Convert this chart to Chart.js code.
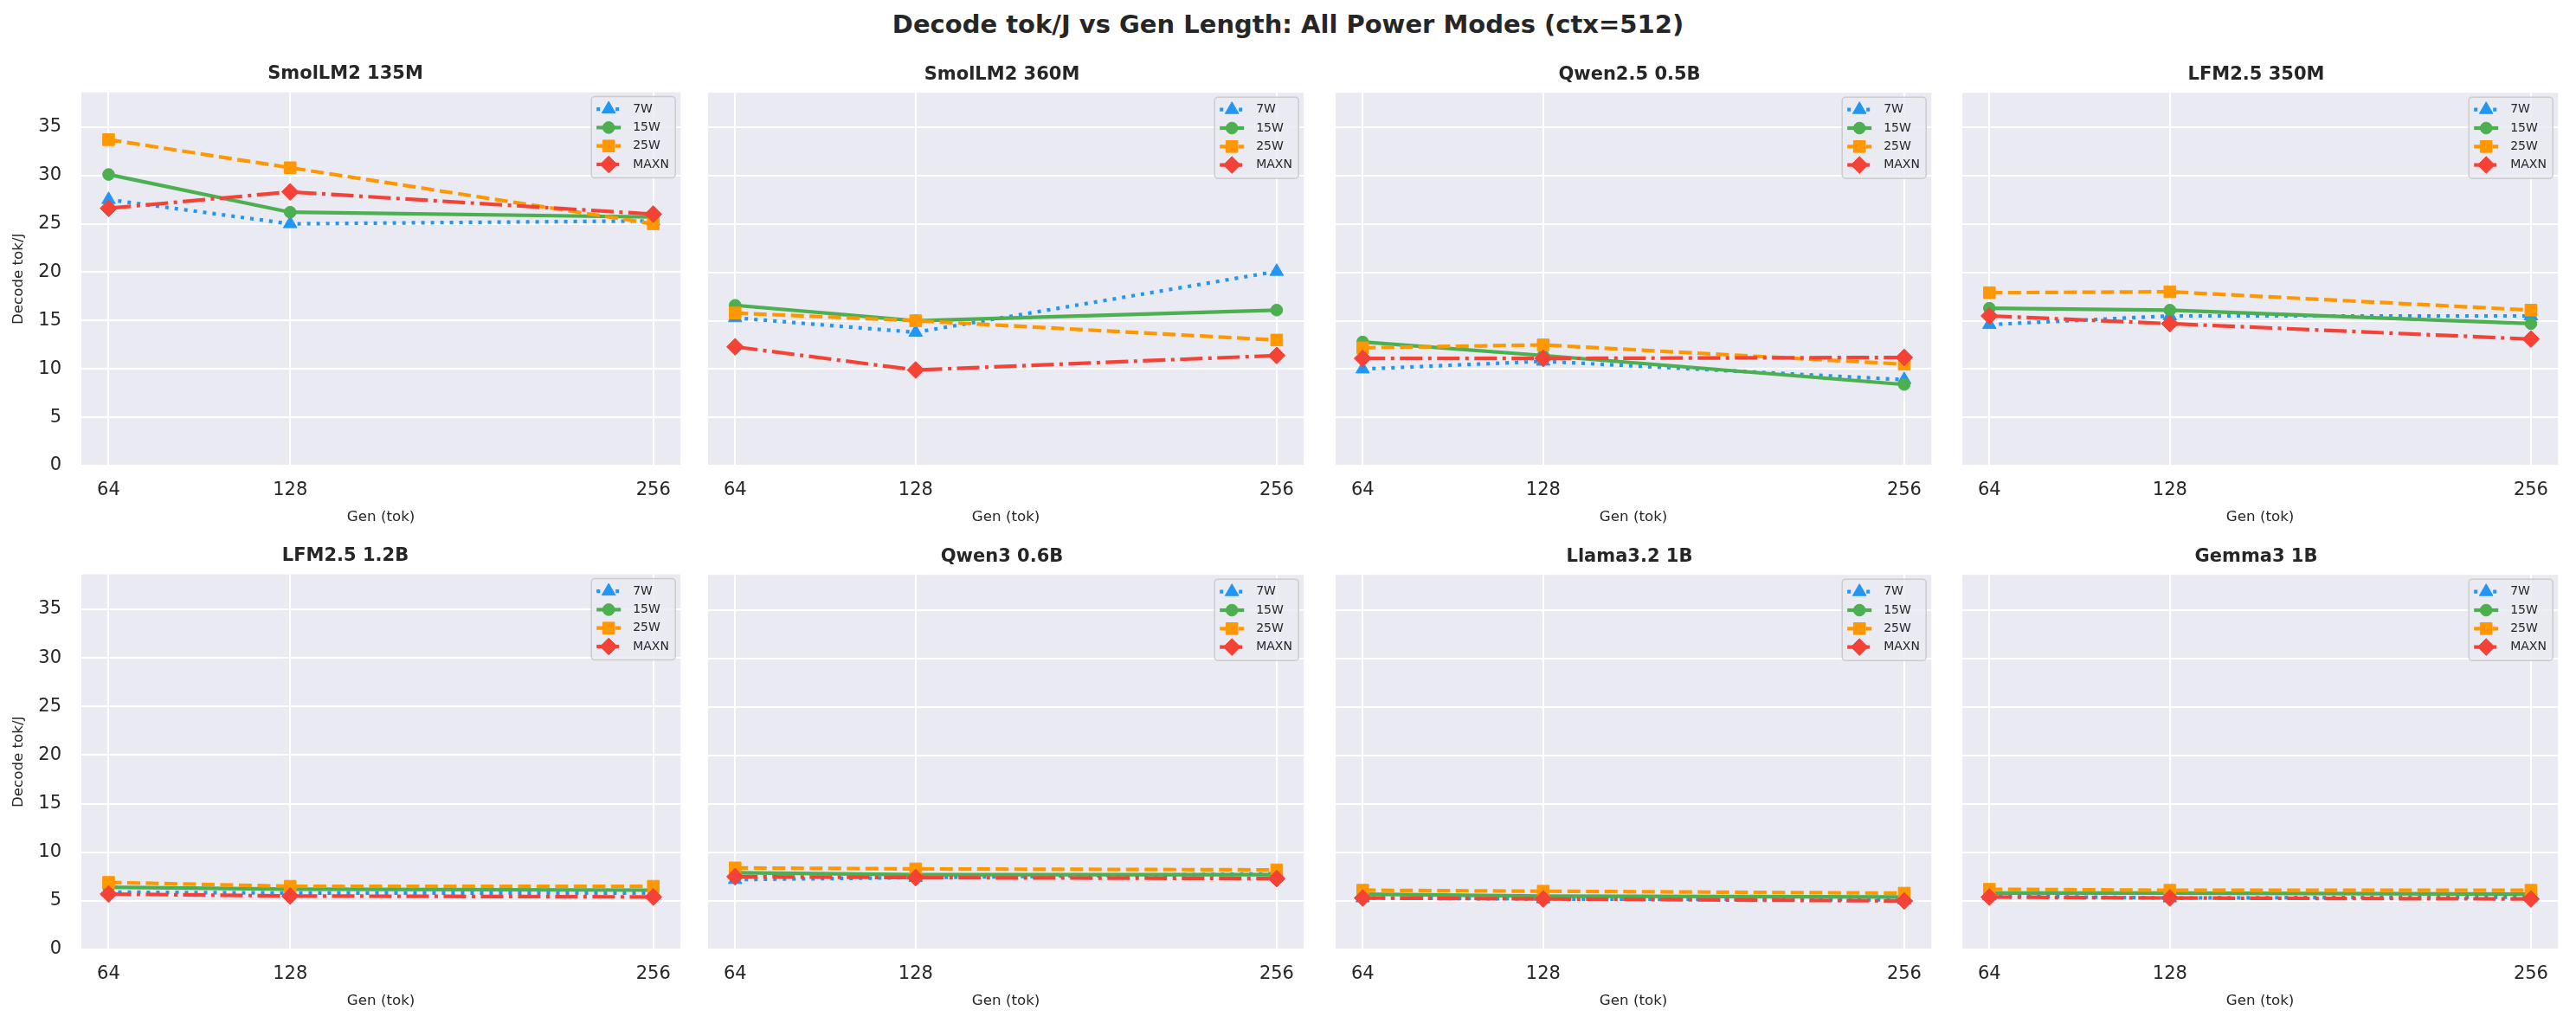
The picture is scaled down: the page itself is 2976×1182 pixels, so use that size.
<!DOCTYPE html>
<html>
<head>
<meta charset="utf-8">
<script src="https://cdn.jsdelivr.net/npm/chart.js@4.4.1/dist/chart.umd.min.js"></script>
<style>
  html, body { margin: 0; padding: 0; background: #fff; }
  body { width: 2976px; height: 1182px; position: relative; overflow: hidden; font-family: "DejaVu Sans", sans-serif; }
  #suptitle { position: absolute; left: 0; top: 10px; width: 2976px; text-align: center; font-weight: bold; font-size: 29px; line-height: 36px; color: #262626; }
  canvas { position: absolute; }
</style>
</head>
<body>
<div id="suptitle">Decode tok/J vs Gen Length: All Power Modes (ctx=512)</div>
<script>
// data
var genLengths = [64, 128, 256];
var models = ["SmolLM2 135M", "SmolLM2 360M", "Qwen2.5 0.5B", "LFM2.5 350M",
              "LFM2.5 1.2B", "Qwen3 0.6B", "Llama3.2 1B", "Gemma3 1B"];
var powerModes = ["7W", "15W", "25W", "MAXN"];

var tok7W = [
  [27.5, 25.0, 25.3], [15.3, 13.8, 20.1], [10.0, 10.8, 8.9], [14.6, 15.5, 15.5],
  [5.9, 5.8, 5.8], [7.2, 7.4, 7.8], [5.3, 5.2, 5.1], [5.5, 5.3, 5.4]
];
var tok15W = [
  [30.1, 26.2, 25.7], [16.6, 15.0, 16.1], [12.8, 11.4, 8.4], [16.3, 16.1, 14.7],
  [6.4, 6.2, 6.1], [7.9, 7.7, 7.7], [5.7, 5.5, 5.4], [5.8, 5.8, 5.7]
];
var tok25W = [
  [33.7, 30.8, 25.0], [15.8, 15.0, 13.0], [12.2, 12.5, 10.5], [17.9, 18.0, 16.1],
  [6.9, 6.5, 6.5], [8.4, 8.3, 8.2], [6.1, 6.0, 5.8], [6.2, 6.1, 6.1]
];
var tokMAXN = [
  [26.6, 28.3, 26.0], [12.3, 9.9, 11.4], [11.1, 11.1, 11.2], [15.5, 14.7, 13.1],
  [5.7, 5.5, 5.4], [7.5, 7.4, 7.3], [5.3, 5.2, 5.0], [5.4, 5.3, 5.2]
];
var yTicks = [0, 5, 10, 15, 20, 25, 30, 35];
var yMax = 38.6;
var xMin = 54.4, xMax = 265.6;

var seriesByMode = [tok7W, tok15W, tok25W, tokMAXN];
var modeStyles = [
  { color: "#2196F3", dash: [4, 7], point: "triangle", r: 9 },
  { color: "#4CAF50", dash: [], point: "circle", r: 6.8 },
  { color: "#FF9800", dash: [15, 6.5], point: "rect", r: 9.6 },
  { color: "#F44336", dash: [26, 6.5, 4, 6.5], point: "rectRot", r: 9.8 }
];

// subplot grid (plot areas in page pixels)
var colLefts = [94, 818, 1543, 2267];
var rowTops = [107, 664];
var plotW = 693;
var plotH = [431, 433];

Chart.defaults.font.family = "'DejaVu Sans', sans-serif";
Chart.defaults.color = "#262626";

var legendBox = {
  id: "legendBox",
  afterDatasetsDraw: function(chart) {
    var ctx = chart.ctx, a = chart.chartArea;
    var w = 97, h = 94, x = a.right - 6 - w, y = a.top + 5;
    ctx.save();
    ctx.beginPath();
    ctx.roundRect(x, y, w, h, 4);
    ctx.fillStyle = "rgba(234,234,242,0.8)";
    ctx.fill();
    ctx.strokeStyle = "#cccccc";
    ctx.lineWidth = 1.5;
    ctx.stroke();
    chart.data.datasets.forEach(function(ds, i) {
      var cy = y + 14.5 + i * 21.3;
      ctx.strokeStyle = ds.borderColor;
      ctx.lineWidth = ds.borderWidth;
      ctx.lineCap = "butt";
      ctx.setLineDash(ds.borderDash);
      ctx.beginPath();
      ctx.moveTo(x + 6, cy);
      ctx.lineTo(x + 34, cy);
      ctx.stroke();
      ctx.setLineDash([]);
      ctx.fillStyle = ds.backgroundColor;
      ctx.lineWidth = 1;
      Chart.helpers.drawPoint(ctx, { pointStyle: ds.pointStyle, radius: ds.pointRadius, rotation: 0, borderWidth: 1 }, x + 20, cy);
      ctx.fillStyle = "#262626";
      ctx.font = "14px 'DejaVu Sans'";
      ctx.textBaseline = "middle";
      ctx.textAlign = "left";
      ctx.fillText(ds.label, x + 48, cy);
    });
    ctx.restore();
  }
};

function makePanel(m) {
  var col = m % 4, row = Math.floor(m / 4);
  var padL = col === 0 ? 93 : 20, padT = 33, padR = 6;
  var padB = 90;
  var w = plotW + padL + padR, h = plotH[row] + padT + padB;
  var canvas = document.createElement("canvas");
  canvas.width = w;
  canvas.height = h;
  canvas.style.left = (colLefts[col] - padL) + "px";
  canvas.style.top = (rowTops[row] - padT) + "px";
  document.body.appendChild(canvas);

  var datasets = powerModes.map(function(mode, i) {
    var s = modeStyles[i];
    return {
      label: mode,
      data: genLengths.map(function(g, k) { return { x: g, y: seriesByMode[i][m][k] }; }),
      borderColor: s.color,
      backgroundColor: s.color,
      borderWidth: 4.2,
      borderDash: s.dash,
      borderCapStyle: "butt",
      pointStyle: s.point,
      pointRadius: s.r,
      pointBorderWidth: 1,
      pointBorderColor: s.color,
      pointBackgroundColor: s.color,
      tension: 0,
      order: 3 - i
    };
  });

  var chart = new Chart(canvas.getContext("2d"), {
    type: "line",
    data: { datasets: datasets },
    options: {
      responsive: false,
      animation: false,
      devicePixelRatio: 1,
      layout: { padding: 0 },
      plugins: {
        legend: { display: false },
        tooltip: { enabled: false },
        title: {
          display: true,
          text: models[m],
          color: "#262626",
          font: { size: 21, weight: "bold" },
          padding: { top: 0, bottom: 8 }
        }
      },
      scales: {
        x: {
          type: "linear",
          min: xMin,
          max: xMax,
          afterBuildTicks: function(s) { s.ticks = genLengths.map(function(v) { return { value: v }; }); },
          afterFit: function(s) { s.height = padB; },
          grid: { color: "#ffffff", lineWidth: 2, drawTicks: false },
          border: { display: false },
          ticks: { font: { size: 21 }, color: "#262626", padding: 16, maxRotation: 0, autoSkip: false },
          title: {
            display: true,
            text: "Gen (tok)",
            color: "#262626",
            font: { size: 16.7 },
            padding: { top: 0, bottom: 20 }
          }
        },
        y: {
          min: 0,
          max: yMax,
          afterBuildTicks: function(s) { s.ticks = yTicks.map(function(v) { return { value: v }; }); },
          afterFit: function(s) { s.width = padL; },
          grid: { color: "#ffffff", lineWidth: 2, drawTicks: false },
          border: { display: false },
          ticks: { display: col === 0, font: { size: 21 }, color: "#262626", padding: 23 },
          title: {
            display: col === 0,
            text: "Decode tok/J",
            color: "#262626",
            font: { size: 16.7 },
            padding: { top: 11, bottom: 0 }
          }
        }
      }
    },
    plugins: [
      {
        id: "plotBg",
        beforeDraw: function(c) {
          var a = c.chartArea;
          c.ctx.save();
          c.ctx.fillStyle = "#EAEAF2";
          c.ctx.fillRect(a.left, a.top, a.right - a.left, a.bottom - a.top);
          c.ctx.restore();
        }
      },
      legendBox
    ]
  });

  // nudge the canvas so the plot area lands where the reference has it
  var a = chart.chartArea;
  var dw = plotW - (a.right - a.left), dh = plotH[row] - (a.bottom - a.top);
  if (Math.abs(dw) > 0.5 || Math.abs(dh) > 0.5) {
    chart.resize(Math.round(w + dw), Math.round(h + dh));
    a = chart.chartArea;
  }
  canvas.style.left = Math.round(colLefts[col] - a.left) + "px";
  canvas.style.top = Math.round(rowTops[row] - a.top) + "px";
}

for (var m = 0; m < models.length; m++) makePanel(m);
</script>
</body>
</html>
